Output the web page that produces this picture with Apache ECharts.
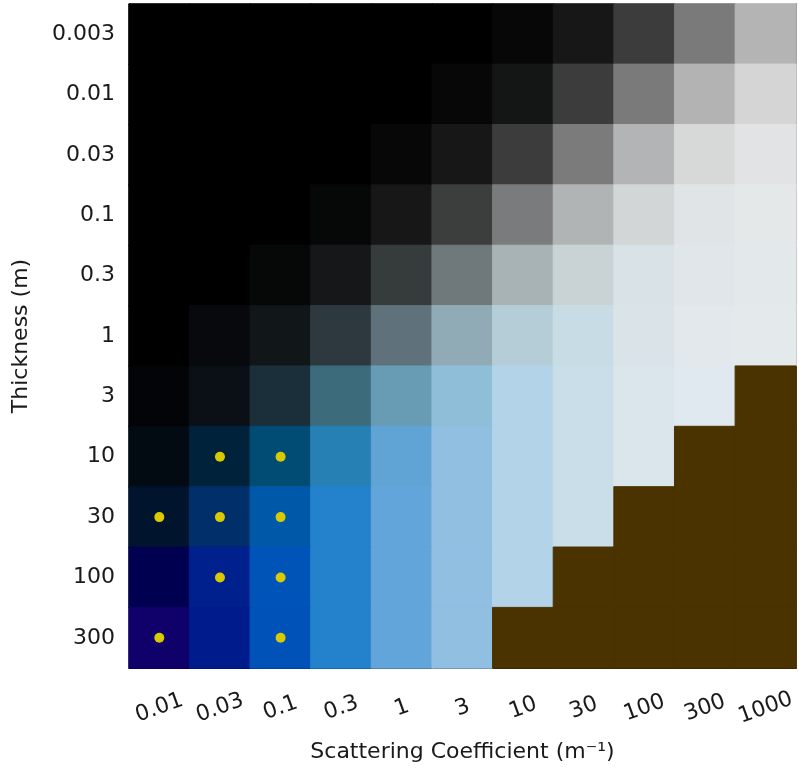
<!DOCTYPE html>
<html>
<head>
<meta charset="utf-8">
<script src="https://cdn.jsdelivr.net/npm/echarts@6/dist/echarts.min.js"></script>
<style>html,body{margin:0;padding:0;background:#fff;}#c{width:799px;height:772px;}</style>
</head>
<body>
<div id="c"></div>
<script>
const scatterCoeffs = ['0.01','0.03','0.1','0.3','1','3','10','30','100','300','1000'];
const thicknesses = ['0.003','0.01','0.03','0.1','0.3','1','3','10','30','100','300'];
const K = '#000000';
const B = '#4b3300';
// cell colours, rows = thickness (top to bottom), columns = scattering coefficient
const cellColors = [
  [K,K,K,K,K,K,'#070707','#171717','#3c3c3c','#7a7a7a','#b3b4b3'],
  [K,K,K,K,K,'#070707','#141615','#3c3c3c','#7a7a7a','#b3b3b3','#d5d5d5'],
  [K,K,K,K,'#070707','#171717','#3c3c3c','#7a7b7a','#b3b4b5','#d7d9d9','#e2e3e4'],
  [K,K,K,'#060807','#171717','#3c3e3d','#7a7b7d','#b1b4b5','#d2d6d7','#e1e4e6','#e4e8e9'],
  [K,K,'#060807','#151718','#363c3c','#6f797b','#a8b3b5','#c9d3d6','#d9e2e6','#e0e6ea','#e3e8eb'],
  [K,'#07090c','#111719','#2e393f','#5f727b','#90abb5','#b5cdd6','#c8dce5','#d9e3e8','#e2e8ec','#e4e9ec'],
  ['#020408','#0a1016','#1a2f3a','#3c6b7c','#679cb4','#8fbfd8','#b3d3e8','#cadeea','#dae5ec','#e0e9ef',B],
  ['#020a12','#00223a','#004c74','#2680b4','#5fa4d4','#90bfe2','#b3d3e8','#cadeea','#dae5ec',B,B],
  ['#00142e','#002f6a','#0058a8','#2482cc','#62a5da','#90bfe2','#b3d3e8','#cadeea',B,B,B],
  ['#000050','#00208e','#0054b8','#2482cc','#62a5da','#90bfe2','#b3d3e8',B,B,B,B],
  ['#10006a','#001c8c','#0052b8','#2482cc','#62a5da','#90bfe2',B,B,B,B,B]
];
// yellow markers
const dotScatter   = ['0.03','0.1','0.01','0.03','0.1','0.03','0.1','0.01','0.1'];
const dotThickness = ['10','10','30','30','30','100','100','300','300'];

const heatData = [];
cellColors.forEach((row, yi) => row.forEach((col, xi) => {
  heatData.push({ value: [scatterCoeffs[xi], thicknesses[yi], 1],
    itemStyle: { color: col, borderColor: col, borderWidth: 1 } });
}));
const dotData = dotScatter.map((s, i) => [s, dotThickness[i]]);

const font = 'DejaVu Sans';
const chart = echarts.init(document.getElementById('c'));
chart.setOption({
  animation: false,
  backgroundColor: '#ffffff',
  grid: { left: 129, right: 3, top: 4, bottom: 104 },
  xAxis: [{
    type: 'category', data: scatterCoeffs, position: 'bottom',
    name: 'Scattering Coefficient (m⁻¹)', nameLocation: 'middle', nameGap: 73,
    nameTextStyle: { fontFamily: font, fontSize: 22, color: '#1a1a1a' },
    axisLine: { lineStyle: { color: '#000', width: 1.2 } },
    axisTick: { alignWithLabel: true, length: 6, lineStyle: { color: '#000', width: 1.2 } },
    axisLabel: { rotate: 20, align: 'center', verticalAlign: 'middle', margin: 40,
      fontFamily: font, fontSize: 22, color: '#1a1a1a', interval: 0 },
    splitLine: { show: false }
  }, {
    type: 'category', data: scatterCoeffs, position: 'top',
    axisLine: { lineStyle: { color: '#555', width: 1.2 } },
    axisTick: { show: false }, axisLabel: { show: false }
  }],
  yAxis: [{
    type: 'category', data: thicknesses, inverse: true, position: 'left',
    name: 'Thickness (m)', nameLocation: 'middle', nameGap: 97, nameRotate: 90,
    nameTextStyle: { fontFamily: font, fontSize: 22, color: '#1a1a1a' },
    axisLine: { lineStyle: { color: '#000', width: 1.2 } },
    axisTick: { alignWithLabel: true, length: 6, lineStyle: { color: '#000', width: 1.2 } },
    axisLabel: { margin: 14, fontFamily: font, fontSize: 22, color: '#1a1a1a', interval: 0 },
    splitLine: { show: false }
  }, {
    type: 'category', data: thicknesses, inverse: true, position: 'right',
    axisLine: { lineStyle: { color: '#222', width: 1.5 } },
    axisTick: { show: false }, axisLabel: { show: false }
  }],
  series: [{
    type: 'heatmap', data: heatData, xAxisIndex: 0, yAxisIndex: 0,
    emphasis: { disabled: true }, silent: true
  }, {
    type: 'scatter', data: dotData, xAxisIndex: 0, yAxisIndex: 0, z: 5,
    symbol: 'circle', symbolSize: 10, itemStyle: { color: '#d8ca00', opacity: 1 }, silent: true
  }]
});
</script>
</body>
</html>
